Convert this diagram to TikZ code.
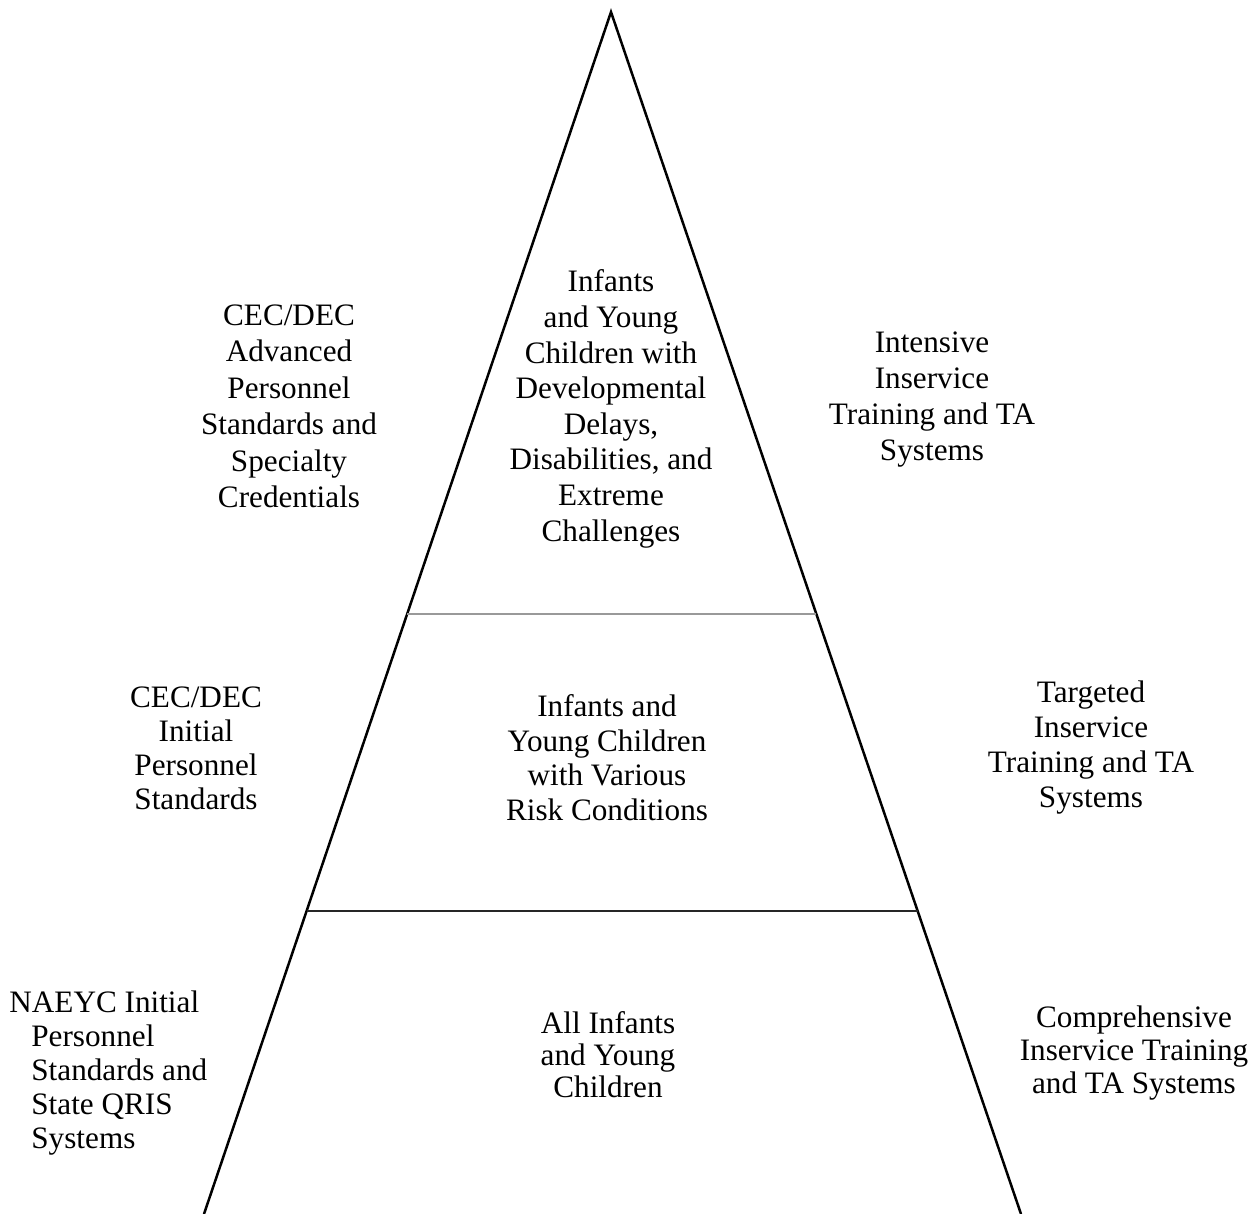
\documentclass[tikz,border=0pt]{standalone}
\usepackage{fontspec}
\setmainfont{Liberation Serif}
\usetikzlibrary{calc}
\begin{document}
\begin{tikzpicture}[x=0.5pt,y=-0.5pt,
  lbl/.style={align=center, inner sep=0pt, anchor=base},
  side/.style={line width=1.25pt, black},
  band/.style={line width=0.85pt},
]
\useasboundingbox (0,0) rectangle (1254,1214);
\coordinate (apex) at (611,12);
\coordinate (L) at (204,1214);
\coordinate (R) at (1021,1214);
\draw[side, line join=miter] (L) -- (apex) -- (R);
\coordinate (g1) at ($(apex)!0.5008!(L)$);
\coordinate (g2) at ($(apex)!0.5008!(R)$);
\coordinate (k1) at ($(apex)!0.748!(L)$);
\coordinate (k2) at ($(apex)!0.748!(R)$);
\draw[band, gray!80] (g1) -- (g2);
\draw[band, black!85] (k1) -- (k2);

% anchor=base sits on the baseline of the last line
\node[lbl, font=\fontsize{15.6}{17.8}\selectfont] (tc) at (611,541) {Infants\\and Young\\Children with\\Developmental\\Delays,\\Disabilities, and\\Extreme\\Challenges};
\node[lbl, font=\fontsize{15.6}{18.3}\selectfont] (tl) at (289,508) {CEC/DEC\\Advanced\\Personnel\\Standards and\\Specialty\\Credentials};
\node[lbl, font=\fontsize{15.6}{17.9}\selectfont] (tr) at (932,460) {Intensive\\Inservice\\Training and TA\\Systems};
\node[lbl, font=\fontsize{15.6}{17}\selectfont] (ml) at (196,809) {CEC/DEC\\Initial\\Personnel\\Standards};
\node[lbl, font=\fontsize{15.6}{17.2}\selectfont] (mc) at (607,820) {Infants and\\Young Children\\with Various\\Risk Conditions};
\node[lbl, font=\fontsize{15.6}{17.5}\selectfont] (mr) at (1091,807) {Targeted\\Inservice\\Training and TA\\Systems};
\node[lbl, font=\fontsize{15.6}{16}\selectfont] (bc) at (608,1097) {All Infants\\and Young\\Children};
\node[lbl, font=\fontsize{15.6}{16.5}\selectfont] (br) at (1134,1093) {Comprehensive\\Inservice Training\\and TA Systems};
\node[align=left, inner sep=0pt, anchor=base west, font=\fontsize{15.6}{17}\selectfont] (bl) at (9,1148) {NAEYC Initial\\\hspace*{11pt}Personnel\\\hspace*{11pt}Standards and\\\hspace*{11pt}State QRIS\\\hspace*{11pt}Systems};
\end{tikzpicture}
\end{document}
